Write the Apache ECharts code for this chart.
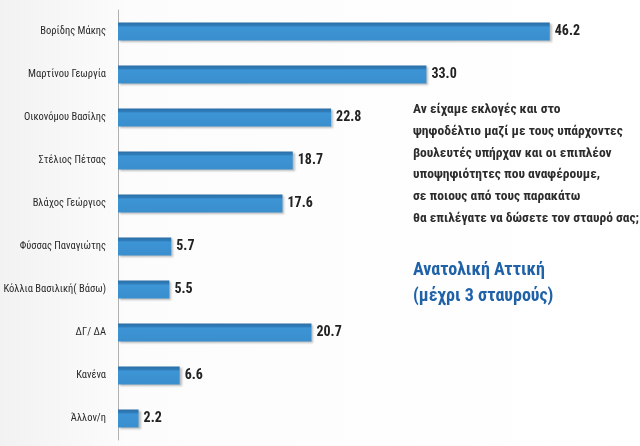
<!DOCTYPE html>
<html><head><meta charset="utf-8">
<script src="https://cdn.jsdelivr.net/npm/echarts@6/dist/echarts.min.js"></script>
<style>html,body{margin:0;padding:0;background:#fff}#c{width:640px;height:446px}</style>
</head><body><div id="c"></div>
<script>
const categories = ["Βορίδης Μάκης","Μαρτίνου Γεωργία","Οικονόμου Βασίλης","Στέλιος Πέτσας","Βλάχος Γεώργιος","Φύσσας Παναγιώτης","Κόλλια Βασιλική( Βάσω)","ΔΓ/ ΔΑ","Κανένα","Άλλον/η"];
const values = [46.2,33.0,22.8,18.7,17.6,5.7,5.5,20.7,6.6,2.2];
const questionLines = ["Αν είχαμε εκλογές και στο","ψηφοδέλτιο μαζί με τους υπάρχοντες","βουλευτές υπήρχαν και οι επιπλέον","υποψηφιότητες που αναφέρουμε,","σε ποιους από τους παρακάτω","θα επιλέγατε να δώσετε τον σταυρό σας;"];
const regionLines = ["Ανατολική Αττική","(μέχρι 3 σταυρούς)"];

const narrow = "'Liberation Sans Narrow','Arial Narrow','Roboto Condensed',sans-serif";
const chart = echarts.init(document.getElementById('c'));
chart.setOption({
  backgroundColor: new echarts.graphic.LinearGradient(0,0,1,0,[{offset:0,color:'#f2f2f2'},{offset:0.2,color:'#fcfcfc'},{offset:1,color:'#ffffff'}]),
  animation:false,
  grid:{left:118,top:10,height:430,width:500},
  xAxis:{type:'value',min:0,max:53.5,show:false},
  yAxis:{type:'category',data:categories,inverse:true,
    axisLine:{show:true,lineStyle:{color:'#b0b0b0',width:1}},
    axisTick:{show:false},
    axisLabel:{margin:12,color:'#2a2a2a',fontSize:10.5,fontFamily:narrow}},
  series:[{type:'bar',data:values,barWidth:18,
    itemStyle:{color:new echarts.graphic.LinearGradient(0,0,0,1,[{offset:0,color:'#2b6fa6'},{offset:0.18,color:'#2f7dbb'},{offset:0.25,color:'#3d95d5'},{offset:1,color:'#3a8ecd'}]),
      borderColor:'#2a6aa0',borderWidth:0,
      shadowColor:'rgba(0,0,0,0.25)',shadowOffsetX:2,shadowOffsetY:1,shadowBlur:2},
    label:{show:true,position:'right',distance:5,color:'#222',fontSize:14,fontWeight:'bold',fontFamily:narrow,
      formatter:p=>p.value.toFixed(1)}}],
  graphic:[
    ...questionLines.map((t,i)=>({type:'text',left:413,top:103+i*21.7,style:{text:t,fill:'#2c2c2c',font:"bold 13.5px "+narrow}})),
    ...regionLines.map((t,i)=>({type:'text',left:413,top:261+i*26,style:{text:t,fill:'#1f62a8',font:"bold 18px "+narrow}}))
  ]
});
</script></body></html>
